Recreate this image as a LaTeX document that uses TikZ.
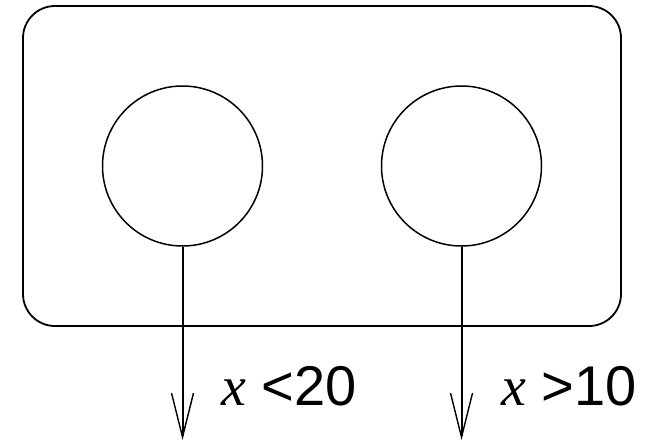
\documentclass[tikz,border=0pt]{standalone}
\usepackage{fontspec}
\setmainfont{Liberation Sans}
\newfontfamily\serifit{Liberation Serif}
\usetikzlibrary{arrows.meta}
\tikzset{
  frame/.style={draw, line width=1.8pt, rounded corners=32pt, minimum width=598pt, minimum height=320pt, inner sep=0pt},
  state/.style={draw, circle, line width=1.5pt, minimum size=160pt, inner sep=0pt},
  flow/.style={line width=2pt, -{Straight Barb[length=44pt,width=22pt,line width=1.4pt]}},
  cond/.style={anchor=base west, inner sep=0pt, font=\fontsize{56}{62}\selectfont}
}
\begin{document}
\begin{tikzpicture}[x=1pt,y=-1pt]
\useasboundingbox (0,0) rectangle (650,442);
\node[frame] (box) at (322,166) {};
\node[state] (c1) at (182.5,166) {};
\node[state] (c2) at (461.5,166) {};
\coordinate (e1) at (182.5,440);
\coordinate (e2) at (461.5,440);
\draw[flow] (c1.south) -- (e1);
\draw[flow] (c2.south) -- (e2);
\node[cond] (l1) at (221,405) {{\serifit\itshape x} <20};
\node[cond] (l2) at (501,405) {{\serifit\itshape x} >10};
\end{tikzpicture}
\end{document}
